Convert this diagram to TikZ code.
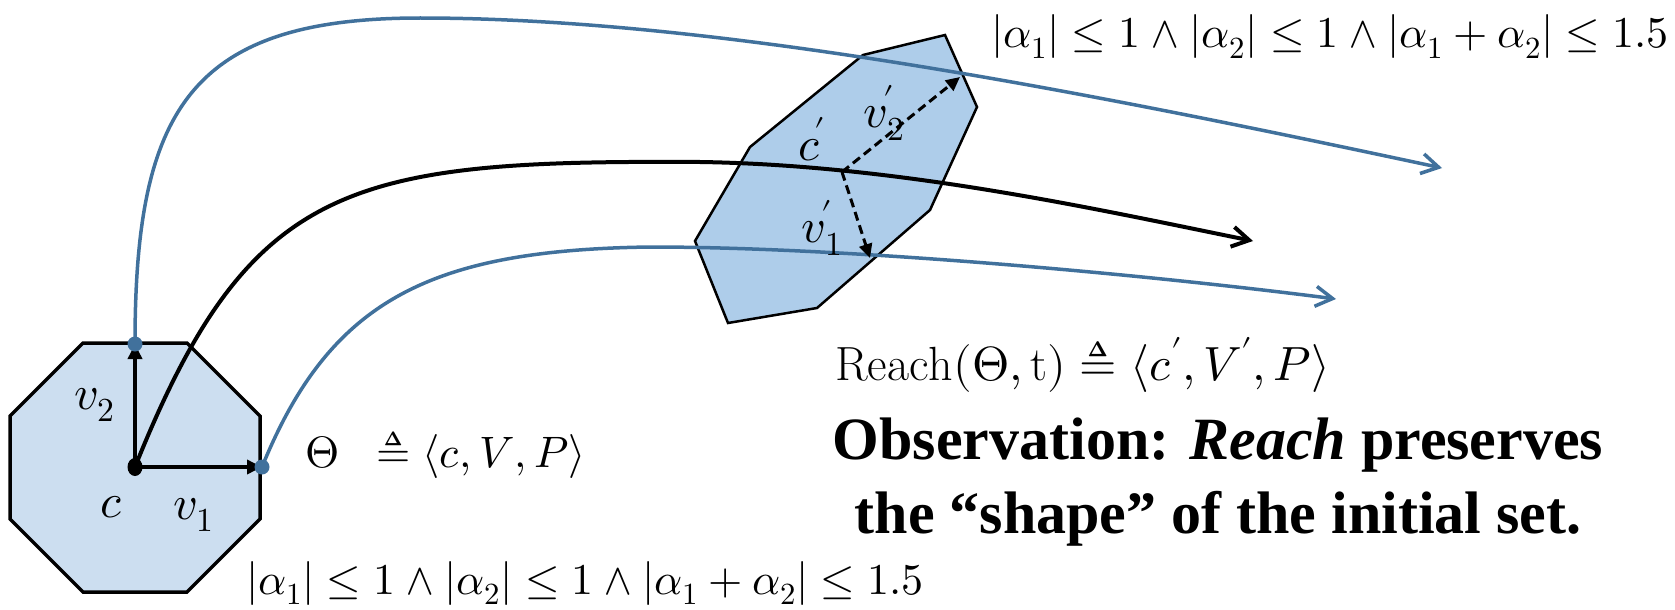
\documentclass[tikz,border=0pt]{standalone}
\usepackage{unicode-math}
\setmathfont{Latin Modern Math}
\newfontfamily\obsfont{Liberation Serif}
\usetikzlibrary{arrows.meta,shapes.geometric}
\definecolor{curveblue}{RGB}{65,113,156}
\definecolor{octfill}{RGB}{204,222,240}
\definecolor{polyfill}{RGB}{174,205,234}
\begin{document}
\begin{tikzpicture}[x=1pt,y=-1pt,
  setline/.style={draw=black,line width=3.5pt,line join=miter},
  flow/.style={line width=3.5pt,-{Straight Barb[length=17pt,width=20pt]}},
  vec/.style={line width=3.5pt,-{Triangle[length=15pt,width=14pt]}},
  dvec/.style={line width=3pt,dash pattern=on 9pt off 5pt,-{Triangle[length=14pt,width=13pt]}},
  bluedot/.style={circle,fill=curveblue,inner sep=0pt,minimum size=15pt},
  cdot/.style={ellipse,fill=black,inner sep=0pt,minimum width=15pt,minimum height=18pt},
  lbl/.style={inner sep=0pt,font=\fontsize{48}{56}\selectfont},
  formula/.style={inner sep=0pt,font=\fontsize{44}{50}\selectfont},
  obs/.style={inner sep=0pt,font=\obsfont\bfseries\fontsize{60}{64}\selectfont},
]
\useasboundingbox (0,0) rectangle (1675,610);

% initial set (octagon)
\draw[setline,fill=octfill] (83,343) -- (187,343) -- (260,416) -- (260,519) -- (187,592) -- (83,592) -- (10,519) -- (10,416) -- cycle;
% reached set
\draw[fill=polyfill,line width=2.5pt,line join=miter] (945,35) -- (977,107) -- (930,210) -- (817,308) -- (728,323) -- (695,241) -- (750,147) -- (863,55) -- cycle;

\coordinate (c) at (135,467);
\coordinate (p1) at (262,467);
\coordinate (p2) at (135,344);
\coordinate (cc) at (842,172);
\coordinate (q1) at (870,258);
\coordinate (q2) at (960,77);
\coordinate (e0) at (1253,241);
\coordinate (e1) at (1336,299);
\coordinate (e2) at (1442,168);

% trajectories
\draw[flow,curveblue] (p2) .. controls (135,110) and (190,18) .. (420,18) .. controls (720,18) and (1100,95) .. (e2);
\draw[flow,black,line width=4pt] (c) .. controls (250,180) and (350,160) .. (700,162) .. controls (900,165) and (1100,210) .. (e0);
\draw[flow,curveblue] (p1) .. controls (330,300) and (430,250) .. (650,247) .. controls (850,247) and (1150,275) .. (e1);

% basis vectors
\draw[vec] (c) -- (p1);
\draw[vec] (c) -- (p2);
\draw[dvec] (cc) -- (q1);
\draw[dvec] (cc) -- (q2);

\node[cdot] (cdotn) at (c) {};
\node[bluedot] (d1) at (p1) {};
\node[bluedot] (d2) at (p2) {};

% labels
\node[lbl] (lv2) at (95,405) {$v_2$};
\node[lbl] (lc) at (111,507) {$c$};
\node[lbl] (lv1) at (194,515) {$v_1$};
\node[lbl] (lcc) at (812,139) {$c^{\mkern-3mu\prime}$};
\node[lbl] (lv2p) at (884,113) {$v_2^{\mkern-2mu\prime}$};
\node[lbl] (lv1p) at (822,228) {$v_1^{\mkern-2mu\prime}$};

% formulas
\node[formula,anchor=base west] (ftop) at (991,48) {$|\alpha_1|\le 1\wedge|\alpha_2|\le 1\wedge|\alpha_1+\alpha_2|\le 1.5$};
\node[formula,anchor=base west] (fbot) at (246,594) {$|\alpha_1|\le 1\wedge|\alpha_2|\le 1\wedge|\alpha_1+\alpha_2|\le 1.5$};
\node[formula,anchor=base west] (theta) at (305,467) {$\Theta\;\;\triangleq\langle c,V,P\rangle$};
\node[formula,anchor=base west,font=\fontsize{48}{56}\selectfont] (reach) at (835,380) {$\mathrm{Reach}(\Theta,\mathrm{t})\triangleq\langle c',V',P\rangle$};
\node[obs,anchor=base] (obs1) at (1218,459) {Observation: \textit{Reach} preserves};
\node[obs,anchor=base] (obs2) at (1218,533) {the “shape” of the initial set.};
\end{tikzpicture}
\end{document}
